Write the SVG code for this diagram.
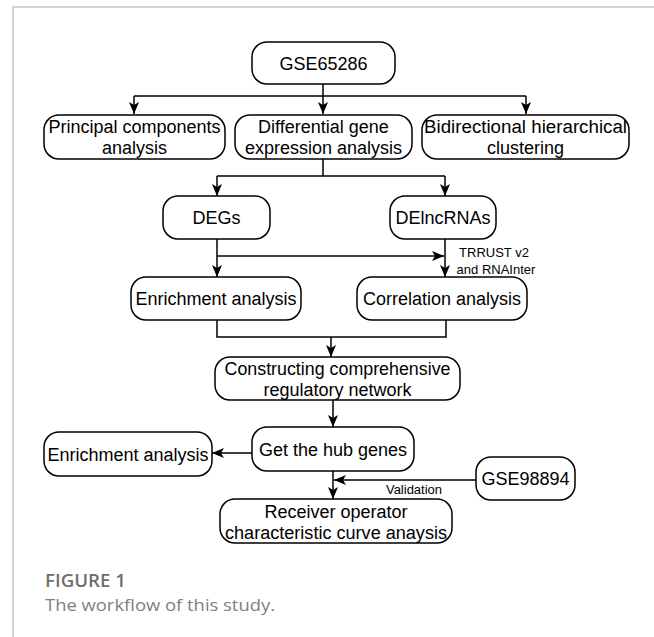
<svg xmlns="http://www.w3.org/2000/svg" width="654" height="637" viewBox="0 0 654 637">
<style>
.box{fill:#fff;stroke:#000;stroke-width:1.5}
.t{font-family:"Liberation Sans",Arial,sans-serif;font-size:18px;fill:#000;text-anchor:middle}
.s{font-family:"Liberation Sans",Arial,sans-serif;font-size:13px;fill:#000;text-anchor:middle}
.c{fill:none;stroke:#000;stroke-width:1.5}
</style>
<defs>
<marker id="ah" markerUnits="userSpaceOnUse" markerWidth="13" markerHeight="11" refX="12" refY="5" orient="auto">
<path d="M0,0 L12,5 L0,10 L3,5 z" fill="#000"/>
</marker>
</defs>
<rect width="654" height="637" fill="#fff"/>
<path d="M13,637 V7 H654" fill="none" stroke="#d4d4d4" stroke-width="2"/>

<g id="connectors">
<path class="c" d="M323,84 V96 M134,96 H526"/>
<path class="c" d="M134,96 V114" marker-end="url(#ah)"/>
<path class="c" d="M323,96 V114" marker-end="url(#ah)"/>
<path class="c" d="M526,96 V114" marker-end="url(#ah)"/>
<path class="c" d="M323,159 V176 M217,176 H445"/>
<path class="c" d="M217,176 V196" marker-end="url(#ah)"/>
<path class="c" d="M445,176 V196" marker-end="url(#ah)"/>
<path class="c" d="M217,239 V277" marker-end="url(#ah)"/>
<path class="c" d="M217,256 H444" marker-end="url(#ah)"/>
<path class="c" d="M445,239 V277" marker-end="url(#ah)"/>
<path class="c" d="M217,320 V337 H446 V320"/>
<path class="c" d="M331,337 V357" marker-end="url(#ah)"/>
<path class="c" d="M333,400 V427" marker-end="url(#ah)"/>
<path class="c" d="M252,453 H212" marker-end="url(#ah)"/>
<path class="c" d="M333,471 V499" marker-end="url(#ah)"/>
<path class="c" d="M476,480 H334" marker-end="url(#ah)"/>
<text class="s" x="494" y="257">TRRUST v2</text>
<text class="s" x="496" y="274">and RNAInter</text>
<text class="s" x="414" y="494">Validation</text>
</g>

<g id="gse65286">
<rect class="box" x="252" y="42" width="143" height="42" rx="15"/>
<text class="t" x="323.5" y="70">GSE65286</text>
</g>
<g id="pca">
<rect class="box" x="44" y="115" width="181" height="44" rx="15"/>
<text class="t" x="134.5" y="132.5">Principal components</text>
<text class="t" x="134.5" y="153.5">analysis</text>
</g>
<g id="dge">
<rect class="box" x="235" y="115" width="177" height="44" rx="15"/>
<text class="t" x="323.5" y="132.5">Differential gene</text>
<text class="t" x="323.5" y="153.5">expression analysis</text>
</g>
<g id="bhc">
<rect class="box" x="422" y="115" width="207" height="44" rx="15"/>
<text class="t" x="525.5" y="132.5" textLength="203" lengthAdjust="spacingAndGlyphs">Bidirectional hierarchical</text>
<text class="t" x="525.5" y="153.5">clustering</text>
</g>
<g id="degs">
<rect class="box" x="163" y="196" width="107" height="43" rx="15"/>
<text class="t" x="216.5" y="224">DEGs</text>
</g>
<g id="delncrnas">
<rect class="box" x="390" y="196" width="106" height="43" rx="15"/>
<text class="t" x="443" y="224">DElncRNAs</text>
</g>
<g id="enrich1">
<rect class="box" x="131" y="277" width="170" height="43" rx="15"/>
<text class="t" x="216" y="305">Enrichment analysis</text>
</g>
<g id="corr">
<rect class="box" x="357" y="277" width="170" height="43" rx="15"/>
<text class="t" x="442" y="305">Correlation analysis</text>
</g>
<g id="network">
<rect class="box" x="215" y="357" width="245" height="43" rx="15"/>
<text class="t" x="337.5" y="374.5" textLength="226" lengthAdjust="spacingAndGlyphs">Constructing comprehensive</text>
<text class="t" x="337.5" y="395.5">regulatory network</text>
</g>
<g id="hub">
<rect class="box" x="252" y="427" width="162" height="44" rx="15"/>
<text class="t" x="333" y="455.5">Get the hub genes</text>
</g>
<g id="enrich2">
<rect class="box" x="44" y="432" width="168" height="44" rx="15"/>
<text class="t" x="128" y="460.5">Enrichment analysis</text>
</g>
<g id="gse98894">
<rect class="box" x="476" y="457" width="99" height="43" rx="15"/>
<text class="t" x="525.5" y="485">GSE98894</text>
</g>
<g id="roc">
<rect class="box" x="220" y="499" width="232" height="44" rx="15"/>
<text class="t" x="336" y="517.5">Receiver operator</text>
<text class="t" x="336" y="538.5" textLength="222" lengthAdjust="spacingAndGlyphs">characteristic curve anaysis</text>
</g>
<g id="caption">
<text x="45" y="587" font-family="'Open Sans','Noto Sans',sans-serif" font-size="18" font-weight="600" fill="#6e6e6e" textLength="81" lengthAdjust="spacingAndGlyphs">FIGURE 1</text>
<text x="45" y="611" font-family="'Open Sans','Noto Sans',sans-serif" font-size="17" fill="#808080" textLength="230" lengthAdjust="spacingAndGlyphs">The workflow of this study.</text>
</g>
</svg>
